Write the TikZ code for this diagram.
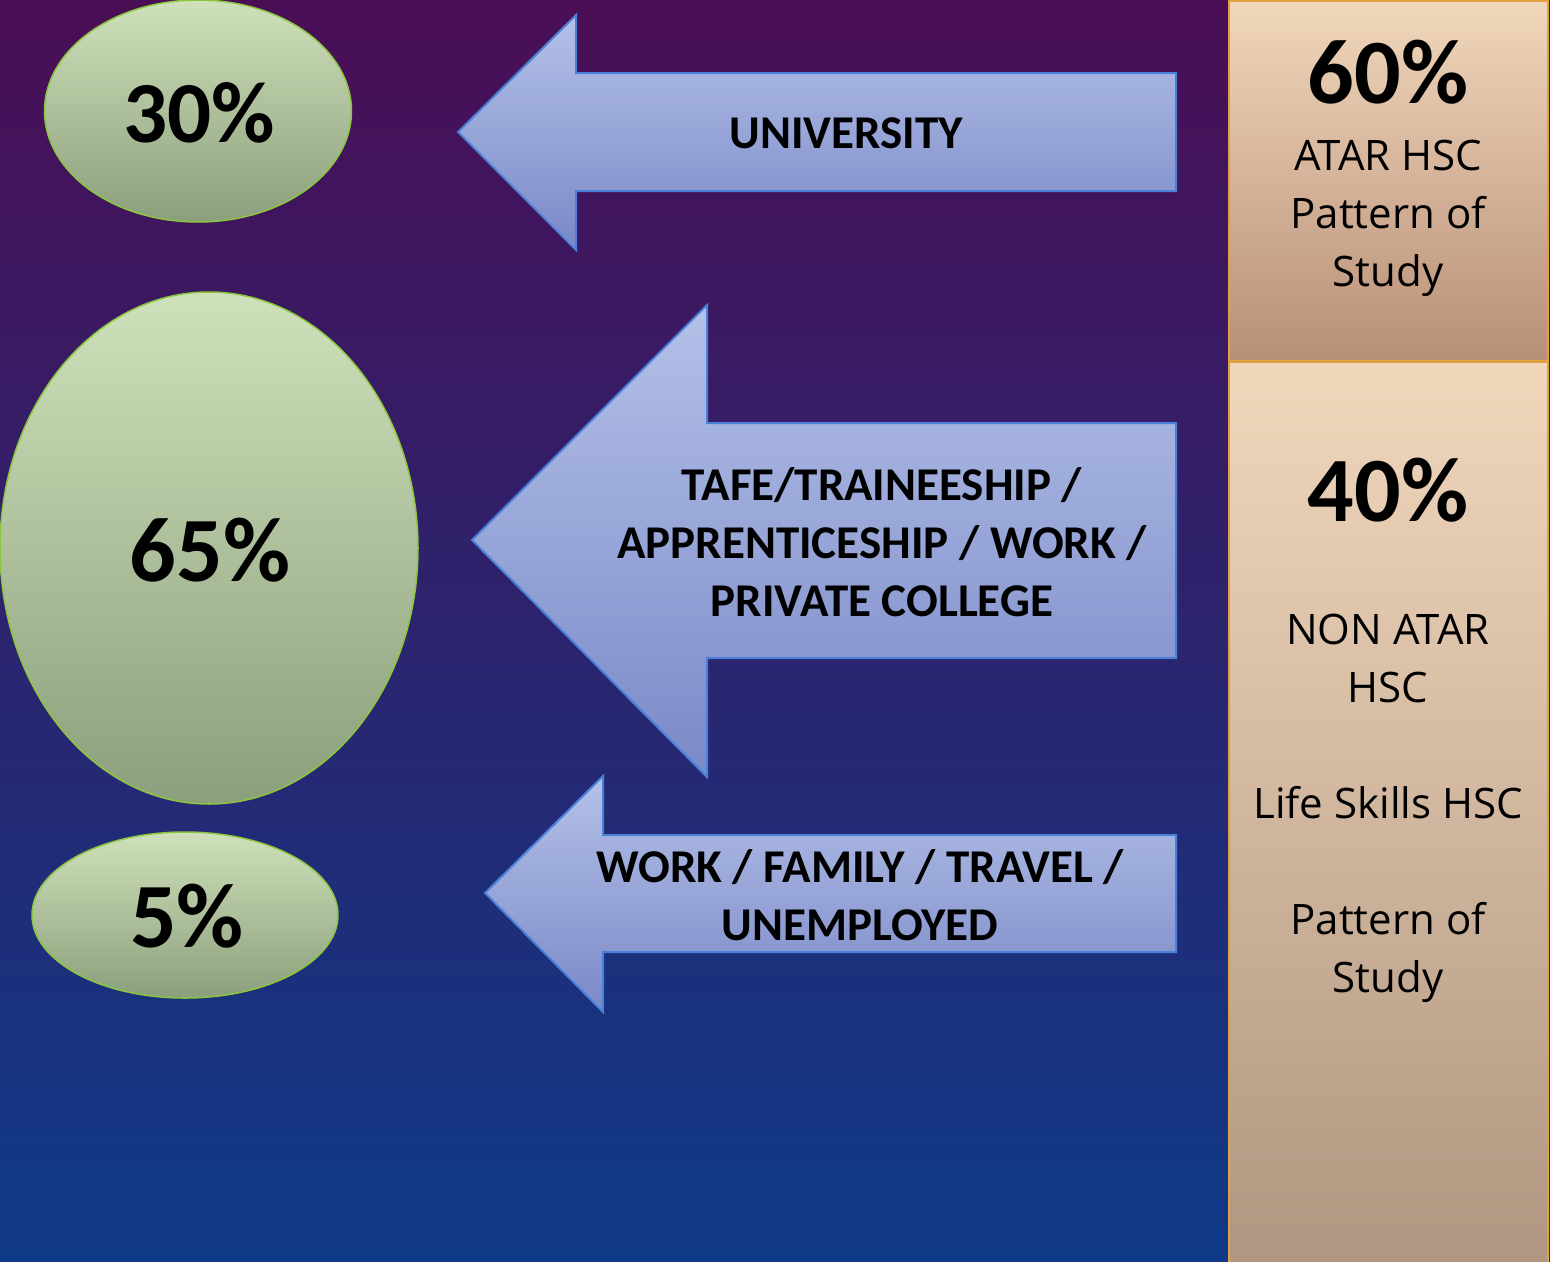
\documentclass[tikz,border=0pt]{standalone}
\usepackage{fontspec}
\setmainfont{Carlito}
\newfontfamily\osans{Open Sans}
\usetikzlibrary{shapes.geometric}
\definecolor{bgtop}{HTML}{4A0E55}
\definecolor{bgmid}{HTML}{3A1E72}
\definecolor{bgbot}{HTML}{0E3A88}
\definecolor{arrtop}{HTML}{B4C1E8}
\definecolor{arrbot}{HTML}{7A89C8}
\definecolor{arrline}{HTML}{4A80D8}
\definecolor{ovtop}{HTML}{CFE1BA}
\definecolor{ovbot}{HTML}{8C9F7C}
\definecolor{ovline}{HTML}{8CC63F}
\definecolor{bxtop}{HTML}{F0D7BC}
\definecolor{bxbot}{HTML}{B88F77}
\definecolor{bx2bot}{HTML}{B09680}
\definecolor{bxline}{HTML}{E3A03E}
\tikzset{
  arrowshape/.style={top color=arrtop, bottom color=arrbot, draw=arrline, line width=2pt, line join=miter},
  oval/.style={ellipse, top color=ovtop, bottom color=ovbot, draw=ovline, line width=1.5pt, inner sep=0pt},
  pcttxt/.style={font=\fontsize{92}{110}\selectfont\bfseries, text=black, inner sep=0pt},
  arrowtxt/.style={font=\fontsize{47}{58}\selectfont\bfseries, align=center, text=black, inner sep=0pt},
  boxtxt/.style={font=\osans\fontsize{42}{58}\selectfont, align=center, text=black, inner sep=0pt},
  sidebox/.style={draw=bxline, line width=2pt}
}
\begin{document}
\begin{tikzpicture}[x=1pt,y=-1pt]
\useasboundingbox (0,0) rectangle (1550,1261);
\shade[top color=bgtop, middle color=bgmid, bottom color=bgbot] (0,0) rectangle (1550,1261);

% arrows
\path[arrowshape] (1176,73) -- (576,73) -- (576,15) -- (458,132) -- (576,250) -- (576,191) -- (1176,191) -- cycle;
\path[arrowshape] (1176,423) -- (707,423) -- (707,305) -- (472,540) -- (707,777) -- (707,658) -- (1176,658) -- cycle;
\path[arrowshape] (1176,835) -- (603,835) -- (603,776) -- (485,893) -- (603,1012) -- (603,952) -- (1176,952) -- cycle;

\node[arrowtxt] (t1) at (846,133) {UNIVERSITY};
\node[arrowtxt] (t2) at (882,542) {TAFE/TRAINEESHIP /\\APPRENTICESHIP / WORK /\\PRIVATE COLLEGE};
\node[arrowtxt] (t3) at (860,895) {WORK / FAMILY / TRAVEL /\\UNEMPLOYED};

% ovals
\node[oval, minimum width=307pt, minimum height=222pt] (e1) at (198,111) {};
\node[oval, minimum width=418pt, minimum height=512pt] (e2) at (209,548) {};
\node[oval, minimum width=306pt, minimum height=166pt] (e3) at (185,915) {};
\node[pcttxt, font=\fontsize{87}{100}\selectfont\bfseries] (p30) at (199,113) {30\%};
\node[pcttxt] (p65) at (210,550) {65\%};
\node[pcttxt] (p5) at (187,916) {5\%};

% side boxes
\shade[sidebox, top color=bxtop, bottom color=bxbot] (1229,1) rectangle (1548,361);
\shade[sidebox, top color=bxtop, bottom color=bx2bot] (1229,362) rectangle (1548,1270);
\node[pcttxt] (p60) at (1388,72) {60\%};
\node[boxtxt] (b1) at (1388,218) {ATAR HSC\\Pattern of\\Study};
\node[pcttxt] (p40) at (1388,490) {40\%};
\node[boxtxt] (b2) at (1388,808) {NON ATAR\\HSC\\[58pt]Life Skills HSC\\[58pt]Pattern of\\Study};
\end{tikzpicture}
\end{document}
